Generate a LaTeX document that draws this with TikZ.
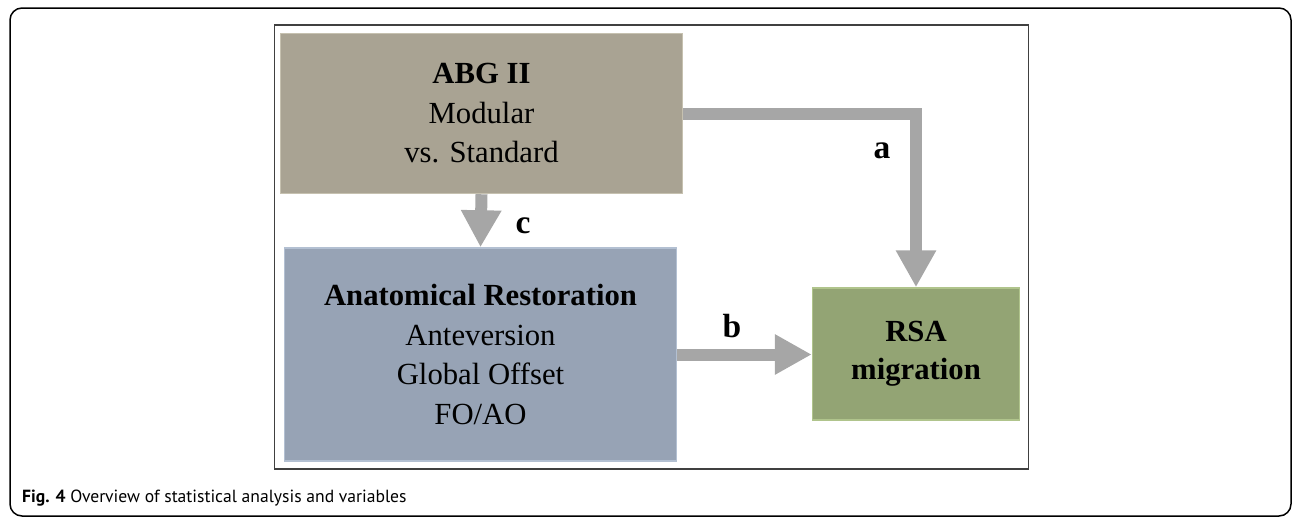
\documentclass[tikz,border=0pt]{standalone}
\usepackage{fontspec}
\setmainfont{Liberation Serif}
\newfontfamily\capfont{PT Sans}
\usetikzlibrary{arrows.meta}
\definecolor{abgfill}{HTML}{A9A393}
\definecolor{abgedge}{HTML}{C6C1B0}
\definecolor{anafill}{HTML}{97A3B5}
\definecolor{anaedge}{HTML}{B3C0D2}
\definecolor{rsafill}{HTML}{93A474}
\definecolor{rsaedge}{HTML}{B0C48C}
\definecolor{arrgray}{HTML}{A6A6A6}
\definecolor{framegray}{HTML}{404040}
\tikzset{
  box/.style={rectangle, inner sep=0pt, align=center,
    font=\fontsize{30.7}{39.5}\selectfont, text=black, line width=1.5pt},
  arr/.style={draw=arrgray, line width=12pt, line join=miter,
    -{Triangle[length=37pt,width=38pt]}},
  lbl/.style={font=\fontsize{33.5}{38}\selectfont\bfseries, anchor=base, inner sep=0pt},
}
\begin{document}
\begin{tikzpicture}[x=1pt,y=-1pt]
\useasboundingbox (0,0) rectangle (1292,517);
% outer frame
\draw[line width=1.5pt, black, rounded corners=12pt] (10,8) rectangle (1291,516);
% inner frame
\draw[line width=1.5pt, framegray] (274.5,25) rectangle (1028.5,469);
% boxes
\node[box, fill=abgfill, draw=abgedge, minimum width=402pt, minimum height=160pt]
  (abg) at (481.5,113.5) {\textbf{ABG II}\\Modular\\vs. Standard};
\node[box, fill=anafill, draw=anaedge, minimum width=392pt, minimum height=213pt]
  (ana) at (480.5,354.5) {\textbf{Anatomical Restoration}\\Anteversion\\Global Offset\\FO/AO};
\node[box, fill=rsafill, draw=rsaedge, minimum width=207pt, minimum height=132pt,
  font=\fontsize{30.7}{38}\selectfont\bfseries]
  (rsa) at (916,354) {RSA\\migration};
% connectors
\draw[arr] (abg.east) -| (rsa.north);
\draw[arr] (abg.south) -- (ana.north);
\draw[arr] (ana.east) -- (ana.east -| rsa.west);
% labels
\node[lbl] (la) at (882,158) {a};
\node[lbl] (lb) at (732,337) {b};
\node[lbl] (lc) at (523,233) {c};
% caption
\node[anchor=base west, inner sep=0pt, font=\capfont\fontsize{17.6}{21}\selectfont]
  (cap) at (22,502) {\textbf{Fig. 4} Overview of statistical analysis and variables};
\end{tikzpicture}
\end{document}
